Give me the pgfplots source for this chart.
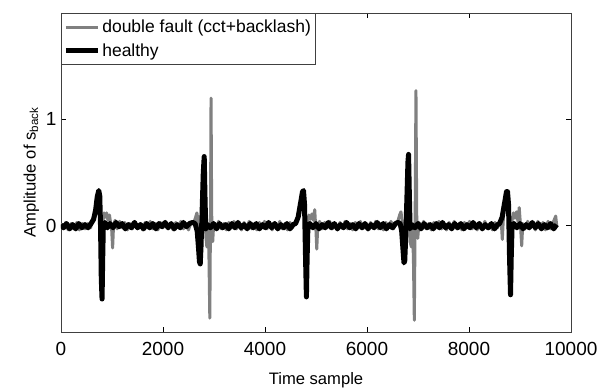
\documentclass[border=0pt]{standalone}
\usepackage{pgfplots}
\pgfplotsset{compat=1.18}
\usepackage{fontspec}
\setmainfont{Liberation Sans}
\begin{document}
\begin{tikzpicture}
\begin{axis}[
  name=ax,
  scale only axis,
  width=510pt, height=319pt,
  xmin=0, xmax=10000, ymin=-1, ymax=2,
  xtick={0,2000,4000,6000,8000,10000},
  ytick={0,1},
  scaled x ticks=false,
  /pgf/number format/assume math mode=true,
  /pgf/number format/set thousands separator={},
  tick align=inside,
  major tick length=5pt,
  tick style={black, line width=0.6pt},
  axis line style={black!75, line width=0.8pt},
  ticklabel style={font=\fontsize{19}{22}\selectfont},
  xticklabel style={yshift=-7pt},
  yticklabel style={xshift=-1pt},
  xlabel={Time sample},
  ylabel={Amplitude of s$_{\mathrm{back}}$},
  label style={font=\fontsize{16.6}{19}\selectfont},
  xlabel style={yshift=-10pt},
  ylabel style={yshift=0pt},
  legend style={at={(0,1)}, anchor=north west, draw=black!75, line width=0.6pt,
    font=\fontsize{17.5}{21}\selectfont, inner xsep=2pt, inner ysep=5pt, row sep=5pt,
    cells={anchor=west}},
  legend image code/.code={\draw[#1] (0pt,0pt) -- (32pt,0pt);},
]
\addplot[color=black!50, line width=3pt, line join=round] coordinates {
(0,0.02) (40,-0.03) (90,0.03) (140,-0.04) (200,0.02) (250,-0.03) (310,0.03) (360,-0.04) (420,0.02) (470,-0.03) (530,0.02) (580,-0.02)
(620,0.06) (650,0.10) (680,0.15) (710,0.27) (740,0.33) (760,0.28) (775,0.0) (790,-0.5) (800,-0.66) (812,-0.3) (825,0.05)
(845,0.12) (870,0.08) (895,0.12) (920,0.05) (950,0.10) (975,0.02) (995,-0.05) (1012,-0.21) (1030,0.0) (1060,0.05)
(1100,-0.03) (1150,0.04) (1200,-0.02) (1250,0.03) (1300,-0.04) (1350,0.02) (1400,-0.03) (1450,0.04) (1500,-0.03) (1550,0.02)
(1600,-0.04) (1650,0.03) (1700,-0.02) (1750,0.04) (1800,-0.03) (1850,0.02) (1900,-0.04) (1950,0.03) (2000,-0.02) (2050,0.04)
(2100,-0.03) (2150,0.02) (2200,-0.04) (2250,0.03) (2300,-0.02) (2350,0.04) (2400,-0.03) (2450,0.02) (2500,-0.04) (2550,0.03)
(2600,0.02) (2640,0.08) (2665,0.12) (2685,0.05) (2700,-0.15) (2715,-0.30) (2730,-0.32) (2745,-0.2) (2765,0.1) (2790,0.45) (2805,0.6) (2820,0.2)
(2840,-0.1) (2860,-0.2) (2880,0.02) (2900,-0.25) (2918,-0.87) (2932,0.15) (2942,1.2) (2955,0.1) (2975,-0.15) (2995,0.03)
(3040,-0.02) (3090,0.04) (3140,-0.03) (3190,0.02) (3240,-0.04) (3290,0.03) (3340,-0.02) (3390,0.04) (3440,-0.03) (3490,0.02)
(3540,-0.04) (3590,0.03) (3640,-0.02) (3690,0.04) (3740,-0.03) (3790,0.02) (3840,-0.04) (3890,0.03) (3940,-0.02) (3990,0.04)
(4040,-0.03) (4090,0.02) (4140,-0.04) (4190,0.03) (4240,-0.02) (4290,0.04) (4340,-0.03) (4390,0.02) (4440,-0.04) (4490,0.03)
(4540,-0.02) (4590,0.03) (4640,0.08) (4670,0.12) (4700,0.2) (4735,0.32) (4755,0.33) (4775,0.2) (4795,-0.3) (4810,-0.64) (4825,-0.3) (4840,0.05)
(4860,0.10) (4890,0.06) (4920,0.11) (4950,0.05) (4975,0.15) (4990,0.02) (5000,-0.05) (5015,-0.22) (5035,0.0) (5070,0.04)
(5120,-0.03) (5170,0.03) (5220,-0.02) (5270,0.04) (5320,-0.03) (5370,0.02) (5420,-0.04) (5470,0.03) (5520,-0.02) (5570,0.04)
(5620,-0.03) (5670,0.02) (5720,-0.04) (5770,0.03) (5820,-0.02) (5870,0.04) (5920,-0.03) (5970,0.02) (6020,-0.04) (6070,0.03)
(6120,-0.02) (6170,0.04) (6220,-0.03) (6270,0.02) (6320,-0.04) (6370,0.03) (6420,-0.02) (6470,0.04) (6520,-0.03) (6570,0.02)
(6610,0.05) (6640,0.10) (6665,0.13) (6690,0.05) (6710,-0.2) (6730,-0.32) (6745,-0.25) (6765,0.0) (6790,0.4) (6810,0.6) (6825,0.2)
(6845,-0.15) (6870,-0.2) (6890,0.0) (6910,-0.3) (6928,-0.89) (6945,0.15) (6960,1.27) (6975,0.1) (6995,-0.12) (7020,0.03)
(7060,-0.02) (7110,0.04) (7160,-0.03) (7210,0.02) (7260,-0.04) (7310,0.03) (7360,-0.02) (7410,0.04) (7460,-0.03) (7510,0.02)
(7560,-0.04) (7610,0.03) (7660,-0.02) (7710,0.04) (7760,-0.03) (7810,0.02) (7860,-0.04) (7910,0.03) (7960,-0.02) (8010,0.04)
(8060,-0.03) (8110,0.02) (8160,-0.04) (8210,0.03) (8260,-0.02) (8310,0.04) (8360,-0.03) (8410,0.02) (8460,-0.04) (8510,0.03)
(8560,-0.02) (8610,0.05) (8635,0.02) (8653,-0.13) (8675,0.08) (8700,0.2) (8735,0.31) (8755,0.31) (8775,0.2) (8795,-0.3) (8812,-0.62) (8828,-0.3) (8845,0.05)
(8870,0.12) (8900,0.07) (8930,0.13) (8960,0.04) (8985,0.17) (9010,0.0) (9033,-0.19) (9055,0.02) (9100,-0.03)
(9150,0.04) (9200,-0.02) (9250,0.03) (9300,-0.04) (9350,0.04) (9400,-0.03) (9450,0.03) (9500,-0.04) (9550,0.04) (9600,-0.03) (9650,0.03) (9700,0.09) (9720,0.0)
};
\addlegendentry{double fault (cct+backlash)}
\addplot[color=black, line width=5pt, line join=round] coordinates {
(0,0.01) (50,-0.02) (110,0.02) (170,-0.03) (230,0.01) (290,-0.03) (350,0.02) (410,-0.02) (470,0.01) (530,-0.02) (590,0.02)
(640,0.06) (680,0.15) (710,0.27) (740,0.33) (760,0.28) (775,0.0) (790,-0.5) (805,-0.69) (818,-0.3) (830,0.0)
(860,0.03) (910,-0.02) (960,0.02) (1020,-0.02) (1080,0.03) (1140,-0.01) (1200,0.02) (1260,-0.03) (1320,0.01) (1380,-0.02)
(1440,0.03) (1500,-0.02) (1560,0.01) (1620,-0.03) (1680,0.02) (1740,-0.02) (1800,0.02) (1860,-0.03) (1920,0.02) (1980,-0.01)
(2040,0.03) (2100,-0.02) (2160,0.02) (2220,-0.03) (2280,0.01) (2340,-0.02) (2400,0.03) (2460,-0.01) (2520,0.02) (2580,0.03)
(2630,0.02) (2670,-0.05) (2695,-0.2) (2715,-0.34) (2730,-0.36) (2745,-0.2) (2765,0.1) (2790,0.5) (2808,0.65) (2822,0.3) (2838,-0.03)
(2870,0.01) (2930,-0.02) (2990,0.02) (3050,-0.03) (3110,0.02) (3170,-0.02) (3230,0.01) (3290,-0.03) (3350,0.02) (3410,-0.02)
(3470,0.03) (3530,-0.02) (3590,0.01) (3650,-0.03) (3710,0.02) (3770,-0.02) (3830,0.02) (3890,-0.03) (3950,0.01) (4010,-0.02)
(4070,0.03) (4130,-0.02) (4190,0.02) (4250,-0.03) (4310,0.01) (4370,-0.02) (4430,0.02) (4490,-0.03) (4550,0.01) (4600,0.02)
(4650,0.08) (4700,0.22) (4735,0.32) (4755,0.33) (4775,0.2) (4795,-0.3) (4812,-0.67) (4826,-0.3) (4842,0.0)
(4880,0.02) (4940,-0.02) (5000,0.02) (5060,-0.03) (5120,0.01) (5180,-0.02) (5240,0.03) (5300,-0.02) (5360,0.02) (5420,-0.03)
(5480,0.01) (5540,-0.02) (5600,0.03) (5660,-0.02) (5720,0.01) (5780,-0.03) (5840,0.02) (5900,-0.02) (5960,0.02) (6020,-0.03)
(6080,0.01) (6140,-0.02) (6200,0.03) (6260,-0.02) (6320,0.02) (6380,-0.03) (6440,0.01) (6500,-0.02) (6560,0.02) (6610,0.03)
(6650,0.02) (6680,-0.05) (6705,-0.22) (6725,-0.35) (6740,-0.33) (6760,-0.1) (6785,0.3) (6803,0.6) (6815,0.67) (6830,0.3) (6845,-0.03)
(6880,0.01) (6940,-0.02) (7000,0.02) (7060,-0.03) (7120,0.02) (7180,-0.02) (7240,0.01) (7300,-0.03) (7360,0.02) (7420,-0.02)
(7480,0.03) (7540,-0.02) (7600,0.01) (7660,-0.03) (7720,0.02) (7780,-0.02) (7840,0.02) (7900,-0.03) (7960,0.01) (8020,-0.02)
(8080,0.03) (8140,-0.02) (8200,0.02) (8260,-0.03) (8320,0.01) (8380,-0.02) (8440,0.02) (8500,-0.03) (8560,0.01) (8600,0.02)
(8650,0.08) (8700,0.22) (8735,0.32) (8755,0.32) (8775,0.2) (8795,-0.3) (8814,-0.65) (8828,-0.3) (8845,0.0)
(8880,0.02) (8940,-0.02) (9000,0.02) (9060,-0.03) (9120,0.01) (9180,-0.02) (9240,0.03) (9300,-0.02) (9360,0.02) (9420,-0.03)
(9480,0.01) (9540,-0.02) (9600,0.02) (9660,-0.03) (9720,0.01)
};
\addlegendentry{healthy}
\end{axis}
\pgfresetboundingbox
\path[use as bounding box] ([shift={(-61pt,-57pt)}]ax.south west) rectangle ([shift={(35pt,13pt)}]ax.north east);
\end{tikzpicture}
\end{document}
